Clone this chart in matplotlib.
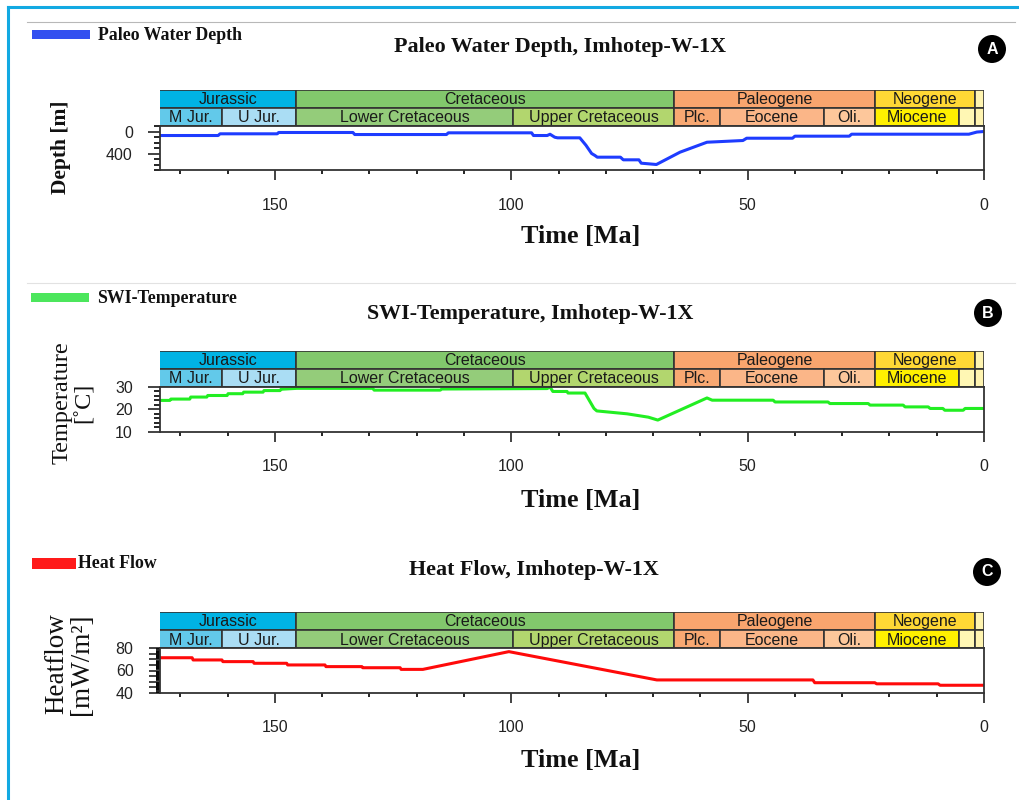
import matplotlib
matplotlib.use('Agg')
import matplotlib.pyplot as plt
from matplotlib.patches import Rectangle, Circle
from matplotlib.lines import Line2D
from matplotlib.ticker import MultipleLocator, FuncFormatter

W, H = 1019, 800

# ---- data ----
depth_age = [174.3, 162.0, 161.6, 149.5, 149.2, 133.5, 133.1, 113.7, 113.3, 95.7, 95.3,
             92.4, 91.8, 90.8, 90.2, 85.5, 84.2, 83.0, 82.3, 81.8, 76.9, 76.3, 73.0, 72.5,
             69.3, 64.3, 58.6, 51.0, 50.2, 40.5, 40.0, 28.5, 28.0, 3.2, 1.5, 0.0]
depth_m = [73, 73, 42, 42, 18, 18, 55, 55, 24, 24, 73,
           73, 50, 104, 115, 115, 250, 400, 436, 467, 467, 515, 515, 576,
           600, 376, 195, 164, 122, 122, 85, 85, 49, 49, 10, 0]

temp_age = [174.3, 172.2, 172.0, 168.0, 167.8, 164.4, 164.2, 160.1, 159.9, 156.8, 156.6,
            152.5, 152.3, 148.9, 148.7, 145.3, 129.3, 129.0, 115.0, 114.7, 92.4, 91.8,
            91.2, 88.2, 88.0, 84.4, 82.5, 81.9, 75.5, 71.0, 69.0, 58.6, 57.5, 44.6, 44.2,
            33.0, 32.6, 24.5, 24.1, 17.1, 16.7, 11.8, 11.4, 8.7, 8.3, 4.4, 4.0, 0.0]
temp_c = [24.0, 24.0, 24.6, 24.6, 25.5, 25.5, 26.2, 26.2, 27.0, 27.0, 27.7,
          27.7, 28.4, 28.4, 29.0, 29.4, 29.4, 28.6, 28.6, 29.1, 29.3, 30.0,
          28.0, 28.0, 27.3, 27.3, 20.4, 19.3, 18.0, 16.5, 15.2, 25.1, 24.1, 24.1, 23.3,
          23.3, 22.6, 22.6, 21.9, 21.9, 21.1, 21.1, 20.4, 20.4, 19.6, 19.6, 20.4, 20.4]

hf_age = [174.3, 167.5, 167.3, 161.2, 161.0, 154.6, 154.4, 147.5, 147.3, 139.4, 139.2,
          131.6, 131.4, 123.5, 123.3, 118.7, 100.5, 69.2, 36.2, 35.8, 23.1, 22.7, 9.7, 9.3, 0.0]
hf_val = [71.5, 71.5, 69.5, 69.5, 68, 68, 66.5, 66.5, 65, 65, 63.5,
          63.5, 62.5, 62.5, 61, 61, 77, 51.5, 51.5, 49, 49, 48, 48, 46.7, 46.7]

# geological time scale header
period_names = ["Jurassic", "Cretaceous", "Paleogene", "Neogene", ""]
period_start = [175.6, 145.5, 65.5, 23.03, 1.8]
period_end = [145.5, 65.5, 23.03, 1.8, 0.0]
period_colors = ["#00B3E4", "#82C86C", "#F9A56E", "#FFD835", "#FFF4B0"]

epoch_names = ["M Jur.", "U Jur.", "Lower Cretaceous", "Upper Cretaceous", "Plc.",
               "Eocene", "Oli.", "Miocene", "", ""]
epoch_start = [175.6, 161.2, 145.5, 99.6, 65.5, 55.8, 33.9, 23.03, 5.33, 1.8]
epoch_end = [161.2, 145.5, 99.6, 65.5, 55.8, 33.9, 23.03, 5.33, 1.8, 0.0]
epoch_colors = ["#62C9EA", "#AADDF4", "#94CC7A", "#B2D66E", "#F8A872",
                "#FBB688", "#FDC79B", "#FFF000", "#FFF7B4", "#FFF4B0"]

XMAX = 174.3
SERIF = "Liberation Serif"
SANS = "Liberation Sans"


def box(l, t, r, b):
    return [l / W, 1 - b / H, (r - l) / W, (b - t) / H]


def ftext(x, y, s, **kw):
    fig.text(x / W, 1 - y / H, s, **kw)


def draw_header(hax):
    hax.set_xlim(XMAX, 0)
    hax.set_ylim(0, 2)
    hax.axis('off')
    rows = [(period_names, period_start, period_end, period_colors, 1),
            (epoch_names, epoch_start, epoch_end, epoch_colors, 0)]
    for names, st, en, cols, y0 in rows:
        for i in range(len(names)):
            r = Rectangle((en[i], y0), st[i] - en[i], 1, facecolor=cols[i],
                          edgecolor="#333333", linewidth=1.2)
            hax.add_patch(r)
            if names[i]:
                xc = (min(st[i], XMAX) + en[i]) / 2.0
                hax.text(xc, y0 + 0.45, names[i], ha='center', va='center',
                         fontsize=11.5, family=SANS, color="#1a1a1a")


def make_panel(hdr_top, data_top, data_bot):
    hax = fig.add_axes(box(160, hdr_top, 984, data_top))
    draw_header(hax)
    ax = fig.add_axes(box(160, data_top, 984, data_bot))
    ax.set_xlim(XMAX, 0)
    ax.xaxis.set_major_locator(MultipleLocator(50))
    ax.xaxis.set_minor_locator(MultipleLocator(10))
    ax.tick_params(axis='x', which='major', length=7, width=1.2, pad=13,
                   labelsize=11.5, colors="#222222")
    ax.tick_params(axis='x', which='minor', length=2.6, width=1.2)
    ax.tick_params(axis='y', which='major', length=8.6, width=1.2, pad=11,
                   labelsize=11.5, colors="#222222")
    ax.tick_params(axis='y', which='minor', length=4.3, width=1.2)
    for sp in ax.spines.values():
        sp.set_color("#333333")
        sp.set_linewidth(1.3)
    return ax


fig = plt.figure(figsize=(W / 100, H / 100), dpi=100)

# outer frame and separators
fig.add_artist(Line2D([8 / W, 1], [1 - 7 / H, 1 - 7 / H], color="#12A9E2", lw=2.2))
fig.add_artist(Line2D([8 / W, 8 / W], [0, 1 - 7 / H], color="#12A9E2", lw=2.2))
fig.add_artist(Line2D([27 / W, 1015 / W], [1 - 22 / H, 1 - 22 / H], color="#b8b8b8", lw=0.8))
fig.add_artist(Line2D([27 / W, 1015 / W], [1 - 283 / H, 1 - 283 / H], color="#e2e2e2", lw=0.8))

# ---- panel A ----
axA = make_panel(90, 126, 170)
axA.plot(depth_age, depth_m, color="#1E3CFF", lw=2.2)
axA.set_ylim(700, -100)
axA.yaxis.set_major_locator(MultipleLocator(400))
axA.yaxis.set_minor_locator(MultipleLocator(100))

# ---- panel B ----
axB = make_panel(350.7, 387, 431.7)
axB.plot(temp_age, temp_c, color="#22EE22", lw=2.2)
axB.set_ylim(10, 30)
axB.yaxis.set_major_locator(MultipleLocator(10))
axB.yaxis.set_minor_locator(MultipleLocator(2))

# ---- panel C ----
axC = make_panel(611.7, 648.3, 692.7)
axC.plot(hf_age, hf_val, color="#FF0A0A", lw=2.2)
axC.set_ylim(40, 80)
axC.yaxis.set_major_locator(MultipleLocator(5))
axC.yaxis.set_minor_locator(MultipleLocator(1))
axC.yaxis.set_major_formatter(FuncFormatter(lambda v, p: "%d" % v if v % 20 == 0 else ""))
axC.tick_params(axis='y', which='minor', length=2.6)
axC.tick_params(axis='y', which='major', length=8)

for ax in (axA, axB, axC):
    for lab in ax.get_xticklabels() + ax.get_yticklabels():
        lab.set_family(SANS)

# legends
leg = [(32, 90, 30, 39, "#3350F0", 98, 35, "Paleo Water Depth"),
       (31, 89, 293, 302, "#4CE65C", 97, 298, "SWI-Temperature"),
       (32, 76, 558, 569, "#FF1A1A", 78, 564, "Heat Flow")]
for l, r, t, b, c, tx, ty, s in leg:
    fig.add_artist(Rectangle((l / W, 1 - b / H), (r - l) / W, (b - t) / H,
                             transform=fig.transFigure, facecolor=c, edgecolor='none'))
    ftext(tx, ty, s, ha='left', va='center', fontsize=12.8, family=SERIF,
          fontweight='bold', color="#111111")

# titles
ftext(560, 47, "Paleo Water Depth, Imhotep-W-1X", ha='center', va='center',
      fontsize=15.8, family=SERIF, fontweight='bold', color="#111111")
ftext(530, 314, "SWI-Temperature, Imhotep-W-1X", ha='center', va='center',
      fontsize=15.8, family=SERIF, fontweight='bold', color="#111111")
ftext(534, 570, "Heat Flow, Imhotep-W-1X", ha='center', va='center',
      fontsize=15.8, family=SERIF, fontweight='bold', color="#111111")

# x labels
for y in (236, 500, 760):
    ftext(581, y, "Time [Ma]", ha='center', va='center', fontsize=18.8,
          family=SERIF, fontweight='bold', color="#111111")

# y labels
ftext(61, 147, "Depth [m]", ha='center', va='center', rotation=90, fontsize=15.5,
      family=SERIF, fontweight='bold', color="#111111")
ftext(73, 403, "Temperature\n[˚C]", ha='center', va='center', rotation=90, fontsize=17.5,
      family=SERIF, linespacing=1.05, multialignment='center', color="#111111")
ftext(69, 664, "Heatflow\n[mW/m²]", ha='center', va='center', rotation=90, fontsize=19.5,
      family=SERIF, linespacing=1.0, multialignment='center', color="#111111")

# badges
for cx, cy, s in [(992, 49, "A"), (988, 313, "B"), (987, 572, "C")]:
    fig.add_artist(Circle((cx / 100, (H - cy) / 100), 0.14, transform=fig.dpi_scale_trans,
                          facecolor="black", edgecolor='none'))
    ftext(cx, cy, s, ha='center', va='center', fontsize=11.5, family=SANS,
          fontweight='bold', color="white")

fig.savefig("out.png", dpi=100)
